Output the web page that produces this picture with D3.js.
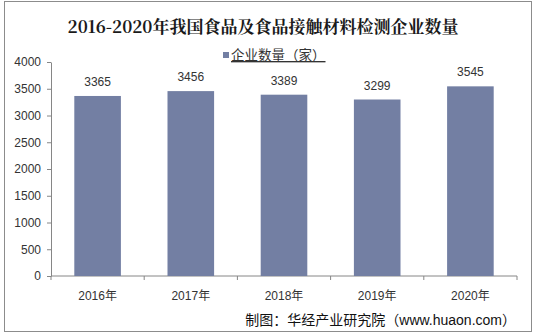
<!DOCTYPE html>
<html><head><meta charset="utf-8">
<script src="https://cdn.jsdelivr.net/npm/d3@7"></script>
<style>body{margin:0;background:#fff}</style>
</head><body>
<svg id="chart" width="535" height="336"></svg>
<script>
const categories = ["2016年", "2017年", "2018年", "2019年", "2020年"];
const values = [3365, 3456, 3389, 3299, 3545];
const yTicks = [0, 500, 1000, 1500, 2000, 2500, 3000, 3500, 4000];
const titleText = "2016-2020年我国食品及食品接触材料检测企业数量";
const seriesName = "企业数量（家）";
const sourceText = "制图：华经产业研究院（www.huaon.com）";

const svg = d3.select("#chart");
const font = "Arial, 'Liberation Sans', 'Noto Sans CJK SC', sans-serif";
const barColor = "#737fa3";

// outer frame
svg.append("rect").attr("x", 4.5).attr("y", 1.5).attr("width", 527).attr("height", 330)
  .attr("fill", "#fff").attr("stroke", "#8c8c8c").attr("stroke-width", 1);

const plotLeft = 51, plotRight = 517, plotTop = 62, plotBottom = 276;
const x = d3.scaleBand().domain(categories).range([plotLeft, plotRight]).paddingInner(0.5).paddingOuter(0.25);
const y = d3.scaleLinear().domain([0, 4000]).range([plotBottom, plotTop]);

// title
svg.append("text").attr("x", 263).attr("y", 33).attr("text-anchor", "middle")
  .attr("font-family", "'Noto Serif CJK SC','Noto Sans CJK SC', serif").attr("font-weight", "bold")
  .attr("font-size", 17).attr("fill", "#1a1a1a").text(titleText);

// legend
svg.append("rect").attr("x", 223).attr("y", 52).attr("width", 6).attr("height", 6).attr("fill", barColor);
svg.append("text").attr("x", 231).attr("y", 60).attr("font-family", font).attr("font-size", 13.5)
  .attr("fill", "#333").attr("text-decoration", "underline").text(seriesName);

// y axis
const yAxis = d3.axisLeft(y).tickValues(yTicks).tickFormat(d3.format("d"))
  .tickSize(4).tickPadding(6).tickSizeOuter(0);
const gy = svg.append("g").attr("transform", `translate(${plotLeft},0)`).call(yAxis);
gy.selectAll("text").attr("font-family", font).attr("font-size", 12).attr("fill", "#333");
gy.selectAll("line").attr("stroke", "#868686");
gy.select(".domain").attr("stroke", "#868686");

// x axis with boundary ticks between categories
const gx = svg.append("g").attr("transform", `translate(0,${plotBottom})`);
gx.append("line").attr("x1", plotLeft).attr("x2", plotRight).attr("stroke", "#868686");
const bounds = d3.range(categories.length + 1).map(i => plotLeft + i * (plotRight - plotLeft) / categories.length);
gx.selectAll("line.tk").data(bounds).join("line").attr("class", "tk")
  .attr("x1", d => d).attr("x2", d => d).attr("y1", 0).attr("y2", 4).attr("stroke", "#868686");
gx.selectAll("text").data(categories).join("text")
  .attr("x", d => x(d) + x.bandwidth() / 2).attr("y", 24).attr("text-anchor", "middle")
  .attr("font-family", font).attr("font-size", 12).attr("fill", "#333").text(d => d);

// bars
svg.selectAll("rect.bar").data(values).join("rect").attr("class", "bar")
  .attr("x", (d, i) => x(categories[i])).attr("width", x.bandwidth())
  .attr("y", d => y(d)).attr("height", d => y(0) - y(d)).attr("fill", barColor);

// value labels
svg.selectAll("text.val").data(values).join("text").attr("class", "val")
  .attr("x", (d, i) => x(categories[i]) + x.bandwidth() / 2).attr("y", d => y(d) - 10)
  .attr("text-anchor", "middle").attr("font-family", font).attr("font-size", 12).attr("fill", "#333")
  .text(d => d);

// source note
svg.append("text").attr("x", 516).attr("y", 325).attr("text-anchor", "end")
  .attr("font-family", font).attr("font-size", 14).attr("fill", "#111").text(sourceText);
</script>
</body></html>
